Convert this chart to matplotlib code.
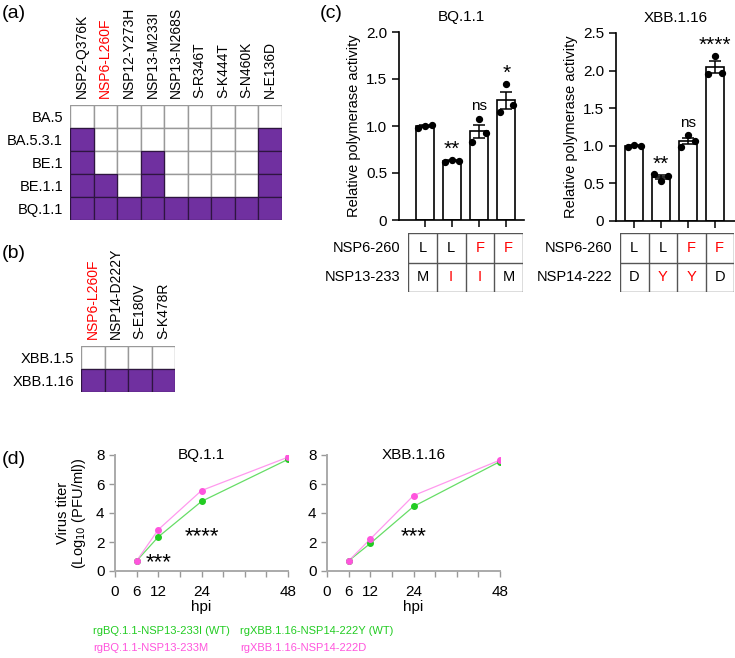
import numpy as np
import matplotlib
matplotlib.use("Agg")
import matplotlib.pyplot as plt
from matplotlib.patches import Rectangle

plt.rcParams["font.family"] = ["Liberation Sans", "DejaVu Sans"]

# ---- data ----
a_cols = ["NSP2-Q376K", "NSP6-L260F", "NSP12-Y273H", "NSP13-M233I", "NSP13-N268S",
          "S-R346T", "S-K444T", "S-N460K", "N-E136D"]
a_rows = ["BA.5", "BA.5.3.1", "BE.1", "BE.1.1", "BQ.1.1"]
a_mut = [[0, 0, 0, 0, 0, 0, 0, 0, 0],
         [1, 0, 0, 0, 0, 0, 0, 0, 1],
         [1, 0, 0, 1, 0, 0, 0, 0, 1],
         [1, 1, 0, 1, 0, 0, 0, 0, 1],
         [1, 1, 1, 1, 1, 1, 1, 1, 1]]

b_cols = ["NSP6-L260F", "NSP14-D222Y", "S-E180V", "S-K478R"]
b_rows = ["XBB.1.5", "XBB.1.16"]
b_mut = [[0, 0, 0, 0],
         [1, 1, 1, 1]]
red_labels = ["NSP6-L260F"]

# relative polymerase activity, triplicates
bq_reps = [[0.98, 1.00, 1.01], [0.62, 0.64, 0.63], [0.83, 1.07, 0.93], [1.15, 1.45, 1.22]]
bq_sig = ["", "**", "ns", "*"]
bq_tab_rows = ["NSP6-260", "NSP13-233"]
bq_tab = [["L", "L", "F", "F"], ["M", "I", "I", "M"]]

xbb_reps = [[0.99, 1.01, 1.00], [0.62, 0.53, 0.60], [0.99, 1.14, 1.07], [1.96, 2.20, 1.97]]
xbb_sig = ["", "**", "ns", "****"]
xbb_tab_rows = ["NSP6-260", "NSP14-222"]
xbb_tab = [["L", "L", "F", "F"], ["D", "Y", "Y", "D"]]
red_letters = ["F", "I", "Y"]

# virus titers
hpi = [6, 12, 24, 48]
bq_wt = [0.7, 2.35, 4.8, 7.7]
bq_mut = [0.7, 2.85, 5.55, 7.85]
xbb_wt = [0.7, 1.9, 4.45, 7.55]
xbb_mut = [0.7, 2.2, 5.2, 7.65]
bq_legend = ["rgBQ.1.1-NSP13-233I (WT)", "rgBQ.1.1-NSP13-233M"]
xbb_legend = ["rgXBB.1.16-NSP14-222Y (WT)", "rgXBB.1.16-NSP14-222D"]

PURPLE = "#7030a0"
GREEN = "#22cc22"
PINK = "#ff55dd"

W, H = 735, 658
fig = plt.figure(figsize=(W / 100, H / 100), dpi=100)


def px_axes(x0, y0, x1, y1):
    return fig.add_axes([x0 / W, 1 - y1 / H, (x1 - x0) / W, (y1 - y0) / H])


def heatmap(ax, mat, cols, rows):
    m = np.array(mat)
    nr, nc = m.shape
    # white cells first (gray grid), purple cells on top with darker borders
    for i in range(nr):
        for j in range(nc):
            if m[i, j] == 0:
                ax.add_patch(Rectangle((j, i), 1, 1, facecolor="white",
                                       edgecolor="#999999", lw=1.0, zorder=1))
    for i in range(nr):
        for j in range(nc):
            if m[i, j] == 1:
                ax.add_patch(Rectangle((j, i), 1, 1, facecolor=PURPLE,
                                       edgecolor="#2e1540", lw=0.9, zorder=2))
    ax.set_xlim(0, nc)
    ax.set_ylim(nr, 0)
    ax.xaxis.tick_top()
    ax.set_xticks(np.arange(nc) + 0.5)
    ax.set_xticklabels(cols, rotation=90, fontsize=10)
    ax.set_yticks(np.arange(nr) + 0.5)
    ax.set_yticklabels(rows, fontsize=10.5)
    ax.tick_params(length=0, pad=5)
    for lbl in ax.get_xticklabels():
        if lbl.get_text() in red_labels:
            lbl.set_color("red")
    for s in ax.spines.values():
        s.set_visible(False)


# ---- (a) ----
ax_a = px_axes(70, 105, 282, 220)
heatmap(ax_a, a_mut, a_cols, a_rows)
fig.text(2 / W, 1 - 14 / H, "(a)", fontsize=14, va="center")

# ---- (b) ----
ax_b = px_axes(81, 346, 175, 392)
heatmap(ax_b, b_mut, b_cols, b_rows)
fig.text(2 / W, 1 - 254 / H, "(b)", fontsize=14, va="center")


# ---- (c) ----
def bar_panel(ax, reps, sig, title, ymax, yticks, ylabels, xlim):
    x = np.arange(len(reps))
    r = np.array(reps)
    means = r.mean(axis=1)
    sems = r.std(axis=1, ddof=1) / np.sqrt(r.shape[1])
    ax.bar(x, means, width=0.66, color="white", edgecolor="black", linewidth=1.2, zorder=1)
    ax.errorbar(x, means, yerr=sems, fmt="none", ecolor="black", elinewidth=1.1,
                capsize=4, capthick=1.1, zorder=2)
    offs = np.array([-0.25, 0.0, 0.25])
    for i in x:
        ax.scatter(i + offs, r[i], s=18, color="black", zorder=3)
        if sig[i]:
            if "*" in sig[i]:
                ax.text(i, r[i].max() + 0.01, sig[i], ha="center", va="bottom",
                        fontsize=15)
            else:
                ax.text(i, r[i].max() + 0.07, sig[i], ha="center", va="bottom",
                        fontsize=11)
    ax.set_xlim(*xlim)
    ax.set_ylim(0, ymax)
    ax.set_yticks(yticks)
    ax.set_yticklabels(ylabels, fontsize=11)
    ax.set_xticks(x)
    ax.set_xticklabels([])
    ax.tick_params(axis="both", length=5, width=1.1, direction="out")
    for s in ["top", "right"]:
        ax.spines[s].set_visible(False)
    for s in ["left", "bottom"]:
        ax.spines[s].set_linewidth(1.2)
    ax.set_ylabel("Relative polymerase activity", fontsize=10.5, labelpad=4)
    ax.set_title(title, fontsize=11, pad=8)


def table_panel(ax, tab, rows):
    nr, nc = len(tab), len(tab[0])
    for j in range(nc + 1):
        ax.plot([j, j], [0, nr], color="#555555", lw=1)
    for i in range(nr + 1):
        ax.plot([0, nc], [i, i], color="#555555", lw=1)
    for i in range(nr):
        for j in range(nc):
            ch = tab[i][j]
            ax.text(j + 0.5, i + 0.5, ch, ha="center", va="center", fontsize=10.5,
                    color="red" if ch in red_letters else "black")
        ax.text(-0.25, i + 0.5, rows[i], ha="right", va="center", fontsize=10.5)
    ax.set_xlim(0, nc)
    ax.set_ylim(nr, 0)
    ax.axis("off")


ax_c1 = px_axes(399, 32, 524, 220)
bar_panel(ax_c1, bq_reps, bq_sig, "BQ.1.1", 2.0, [0, 0.5, 1.0, 1.5, 2.0],
          ["0", "0.5", "1.0", "1.5", "2.0"], (-0.95, 3.65))
ax_t1 = px_axes(408, 233, 523, 292)
table_panel(ax_t1, bq_tab, bq_tab_rows)

ax_c2 = px_axes(616, 33, 735, 221)
bar_panel(ax_c2, xbb_reps, xbb_sig, "XBB.1.16", 2.5, [0, 0.5, 1.0, 1.5, 2.0, 2.5],
          ["0", "0.5", "1.0", "1.5", "2.0", "2.5"], (-0.68, 3.75))
ax_t2 = px_axes(620, 233, 734, 292)
table_panel(ax_t2, xbb_tab, xbb_tab_rows)
fig.text(320 / W, 1 - 14 / H, "(c)", fontsize=14, va="center")


# ---- (d) ----
def titer_panel(ax, wt, mut, title, stars):
    ax.plot(hpi, wt, color="#66dd66", lw=0.9, zorder=2)
    ax.plot(hpi, mut, color="#ff99ee", lw=0.9, zorder=2)
    ax.plot(hpi, wt, "o", color=GREEN, ms=4, zorder=3)
    ax.plot(hpi, mut, "o", color=PINK, ms=4, zorder=3)
    for sx, sy, st in stars:
        ax.text(sx, sy, st, ha="center", va="center", fontsize=16)
    ax.set_xlim(0, 48)
    ax.set_ylim(0, 8)
    ax.set_xticks(range(0, 49, 6))
    ax.set_xticklabels(["0", "6", "12", "", "24", "", "", "", "48"], fontsize=11)
    ax.set_yticks([0, 2, 4, 6, 8])
    ax.set_yticklabels(["0", "2", "4", "6", "8"], fontsize=11)
    ax.tick_params(axis="both", length=4, width=1, color="#999999", direction="out")
    ax.tick_params(axis="x", pad=6)
    for s in ["top", "right"]:
        ax.spines[s].set_visible(False)
    for s in ["left", "bottom"]:
        ax.spines[s].set_color("#aaaaaa")
        ax.spines[s].set_linewidth(1.4)
    ax.set_xlabel("hpi", fontsize=11, labelpad=1)
    ax.text(24, 8, title, ha="center", va="center", fontsize=11)


ax_d1 = px_axes(115, 455, 288, 571)
titer_panel(ax_d1, bq_wt, bq_mut, "BQ.1.1", [(12.2, 0.6, "***"), (24, 2.4, "****")])
ax_d1.set_ylabel("Virus titer\n(Log$_{10}$ (PFU/ml))", fontsize=10.5, labelpad=6,
                 linespacing=1.0)

ax_d2 = px_axes(327, 455, 500, 571)
titer_panel(ax_d2, xbb_wt, xbb_mut, "XBB.1.16", [(24, 2.35, "***")])
fig.text(2 / W, 1 - 460 / H, "(d)", fontsize=14, va="center")

for (x0, labels) in [(93, bq_legend), (240, xbb_legend)]:
    fig.text(x0 / W, 1 - 631 / H, labels[0], color=GREEN, fontsize=8, va="center")
    fig.text(x0 / W, 1 - 648 / H, labels[1], color=PINK, fontsize=8, va="center")

fig.savefig("out.png", dpi=100)
